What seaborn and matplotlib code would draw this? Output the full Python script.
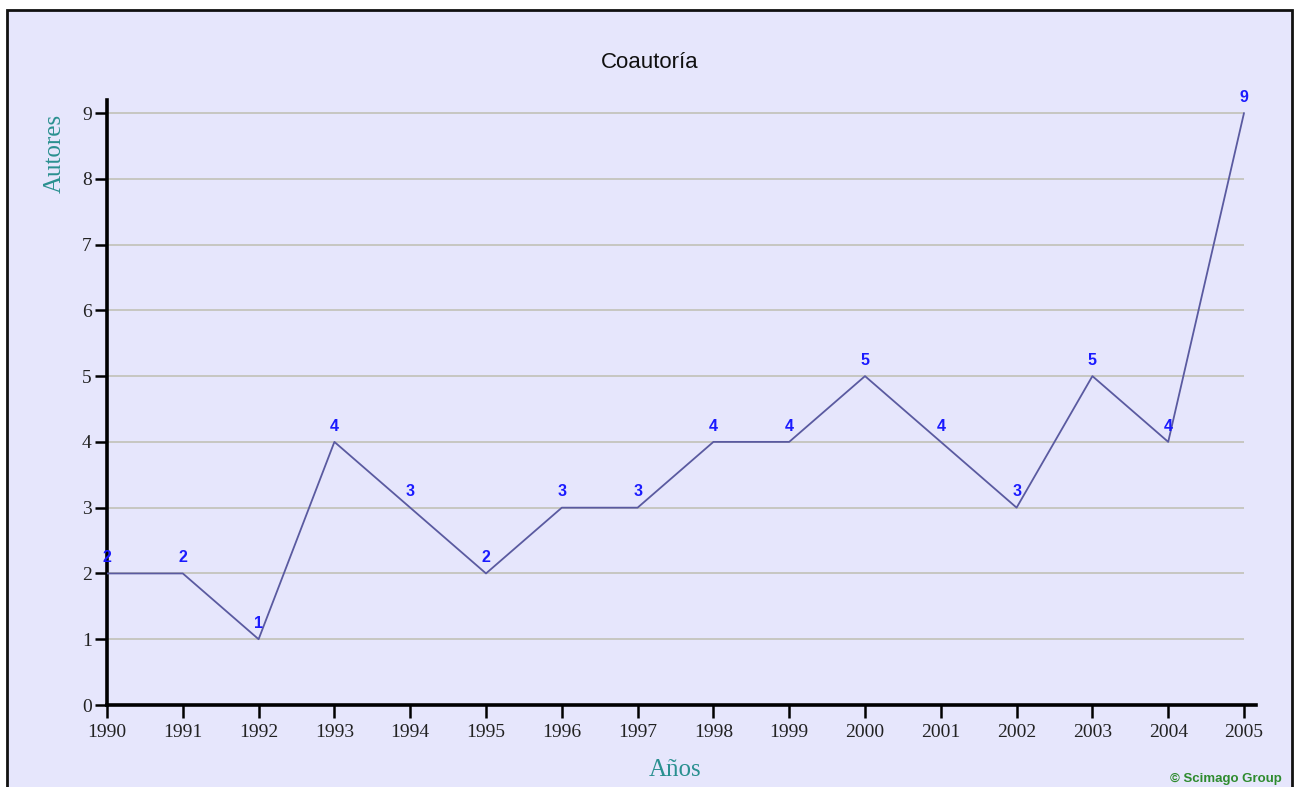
import matplotlib
matplotlib.use("Agg")
import matplotlib.pyplot as plt
import seaborn as sns
import pandas as pd
from matplotlib.patches import Rectangle

years = [1990, 1991, 1992, 1993, 1994, 1995, 1996, 1997, 1998, 1999, 2000, 2001, 2002, 2003, 2004, 2005]
authors = [2, 2, 1, 4, 3, 2, 3, 3, 4, 4, 5, 4, 3, 5, 4, 9]
yticks = [0, 1, 2, 3, 4, 5, 6, 7, 8, 9]

df = pd.DataFrame({"Año": years, "Autores": authors})

sns.set_theme(style="white")
W, H = 1301, 787
fig = plt.figure(figsize=(W / 100, H / 100), dpi=100)
fig.patch.set_facecolor("white")

# lavender panel with border
panel = Rectangle((7 / W, -0.05), (1292 - 7) / W, 1 - 10 / H + 0.05,
                  transform=fig.transFigure, facecolor="#e6e6fc",
                  edgecolor="#111111", linewidth=2.0, zorder=-10)
fig.patches.append(panel)

ax = fig.add_axes([107 / W, 1 - 705 / H, (1256 - 107) / W, (705 - 100) / H])
ax.set_zorder(5)
ax.set_facecolor("none")

x_right = 1990 + (1256 - 107) / ((1244 - 107) / 15)
y_top = 9 + 13 / ((705 - 113) / 9)
ax.set_xlim(1990, x_right)
ax.set_ylim(0, y_top)

# grid lines only across data range
ax.hlines([t for t in yticks if t > 0], 1990, 2005, colors="#c4c4bc", linewidth=1.3, zorder=1)

sns.lineplot(data=df, x="Año", y="Autores", ax=ax, color="#5a5aa0", linewidth=1.3, zorder=3)

for xv, yv in zip(years, authors):
    ax.annotate(str(yv), (xv, yv), xytext=(0, 6), textcoords="offset points",
                ha="center", va="bottom", color="#1a1aff", fontsize=11.5,
                fontweight="bold", family="Liberation Sans", clip_on=False, zorder=4)

for s in ["top", "right"]:
    ax.spines[s].set_visible(False)
for s in ["left", "bottom"]:
    ax.spines[s].set_color("black")
    ax.spines[s].set_linewidth(2.6)

ax.set_xticks(years)
ax.set_xticklabels([str(y) for y in years])
ax.set_yticks(yticks)
ax.tick_params(axis="both", direction="out", length=9, width=1.8, color="black",
               labelsize=14, labelcolor="#222222", pad=2, bottom=True, left=True)
ax.tick_params(axis="x", pad=5)
for lab in ax.get_xticklabels() + ax.get_yticklabels():
    lab.set_family("Liberation Serif")

ax.set_xlabel("")
ax.set_ylabel("")

fig.text(650 / W, 1 - 62 / H, "Coautoría", ha="center", va="center",
         fontsize=16, family="Liberation Sans", color="#111111")
fig.text(675 / W, 1 - 770 / H, "Años", ha="center", va="center",
         fontsize=18, family="Liberation Serif", color="#2a9090")
fig.text(55 / W, 1 - 153 / H, "Autores", ha="center", va="center", rotation=90,
         fontsize=18, family="Liberation Serif", color="#2a9090")
fig.text(1282 / W, 1 - 779 / H, "© Scimago Group", ha="right", va="center",
         fontsize=9.5, family="Liberation Sans", fontweight="bold", color="#2e8b2e")

fig.savefig("out.png", dpi=100)
